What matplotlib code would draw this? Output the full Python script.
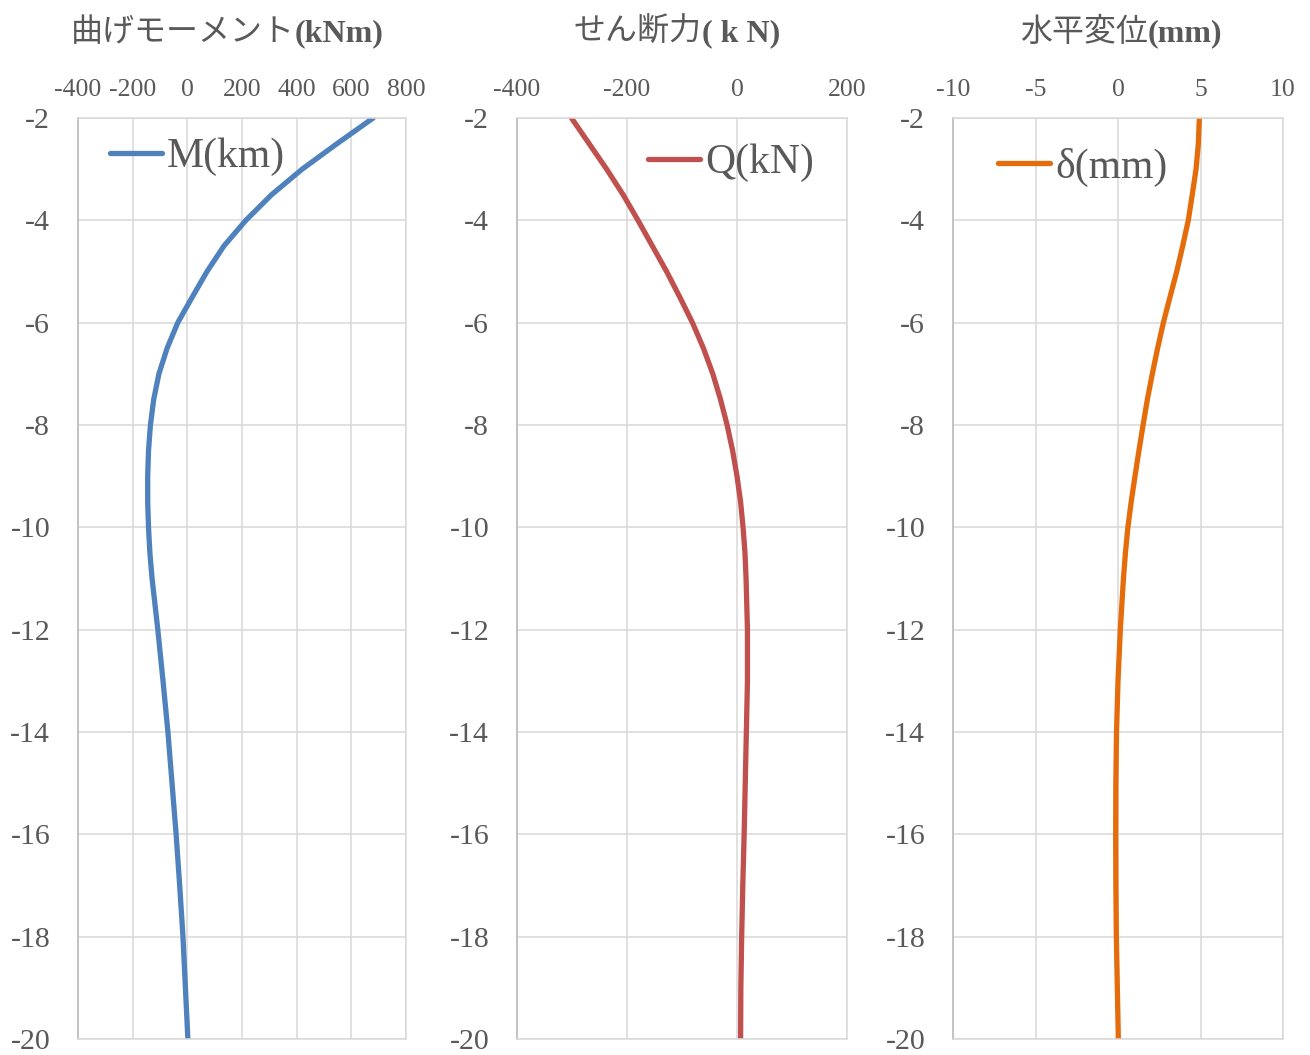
import matplotlib
matplotlib.use("Agg")
import matplotlib.pyplot as plt

plt.rcParams['font.family'] = ['Liberation Serif', 'Noto Sans CJK JP', 'DejaVu Sans']
plt.rcParams['axes.unicode_minus'] = False

# depth (m)
depth = [-2, -2.5, -3, -3.5, -4, -4.5, -5, -5.5, -6, -6.5, -7, -7.5, -8, -8.5,
         -9, -9.5, -10, -10.5, -11, -12, -13, -14, -15, -16, -17, -18, -19, -20]

# bending moment M (kNm)
moment = [680, 548, 420, 308, 214, 134, 72, 18, -35, -74, -104, -123, -135, -142,
          -145, -145, -142, -137, -129, -108, -89, -71, -56, -41, -28, -16, -7, 2]

# shear Q (kN)
shear = [-301, -269, -237, -207, -180, -154, -128, -104, -81, -61, -44, -30, -18, -8,
         0, 6.5, 11, 14.5, 16.5, 19, 19, 17, 15, 13, 10.5, 8.5, 7, 6.5]

# horizontal displacement (mm)
disp = [4.93, 4.87, 4.73, 4.5, 4.26, 3.92, 3.56, 3.15, 2.75, 2.4, 2.08, 1.78, 1.52, 1.27,
        1.03, 0.8, 0.6, 0.45, 0.33, 0.14, 0.0, -0.09, -0.13, -0.14, -0.13, -0.1, -0.04, 0.02]

titles_jp = ["曲げモーメント", "せん断力", "水平変位"]
titles_unit = ["(kNm)", "( k N)", "(mm)"]
legend_labels = ["M(km)", "Q(kN)", "δ(mm)"]
colors = ["#4F81BD", "#C0504D", "#E46C0A"]
xlims = [(-400, 800), (-400, 200), (-10, 10)]
xsteps = [200, 200, 5]

W, H = 1310, 1055
fig = plt.figure(figsize=(W / 100, H / 100), dpi=100)

# axes boxes in pixels: left, right
boxes = [(78, 406), (517, 847), (953, 1283)]
top_px, bot_px = 118, 1039
# title split positions (pixel x where jp part ends)
title_split = [295, 702, 1148]
legend_anchor = [(110, 157), (648, 163), (998, 167)]

gray = "#595959"
series = [moment, shear, disp]

for i in range(3):
    l, r = boxes[i]
    ax = fig.add_axes([l / W, 1 - bot_px / H, (r - l) / W, (bot_px - top_px) / H])
    ax.plot(series[i], depth, color=colors[i], lw=3.8, solid_capstyle='round',
            solid_joinstyle='round', label=legend_labels[i])
    lo, hi = xlims[i]
    ax.set_xlim(lo, hi)
    ax.set_ylim(-20, -2)
    ax.set_xticks(list(range(lo, hi + 1, xsteps[i])))
    ax.set_yticks(list(range(-20, -1, 2)))
    ax.xaxis.tick_top()
    ax.tick_params(axis='x', length=0, pad=12, labelsize=18.5, labelcolor=gray)
    ax.tick_params(axis='y', length=0, pad=20, labelsize=21.5, labelcolor=gray)
    ax.grid(True, color="#D9D9D9", lw=1.1)
    ax.set_axisbelow(True)
    for s in ['top', 'right', 'bottom']:
        ax.spines[s].set_color("#D9D9D9")
        ax.spines[s].set_linewidth(1.1)
    ax.spines['left'].set_color("#BFBFBF")
    ax.spines['left'].set_linewidth(1.3)

    ax_w = r - l
    ax_h = bot_px - top_px
    lx, ly = legend_anchor[i]
    ax.legend(loc='center left', bbox_to_anchor=((lx - l) / ax_w, 1 - (ly - top_px) / ax_h),
              frameon=False, fontsize=30, handlelength=1.25, handletextpad=0.12,
              borderpad=0, borderaxespad=0, labelcolor=gray)

    xs = title_split[i] / W
    fig.text(xs, 1 - 41 / H, titles_jp[i], ha='right', va='baseline', fontsize=23,
             color=gray)
    fig.text(xs, 1 - 41 / H, titles_unit[i], ha='left', va='baseline', fontsize=23,
             color=gray, fontweight='bold')

fig.savefig("out.png", dpi=100, facecolor="white")
